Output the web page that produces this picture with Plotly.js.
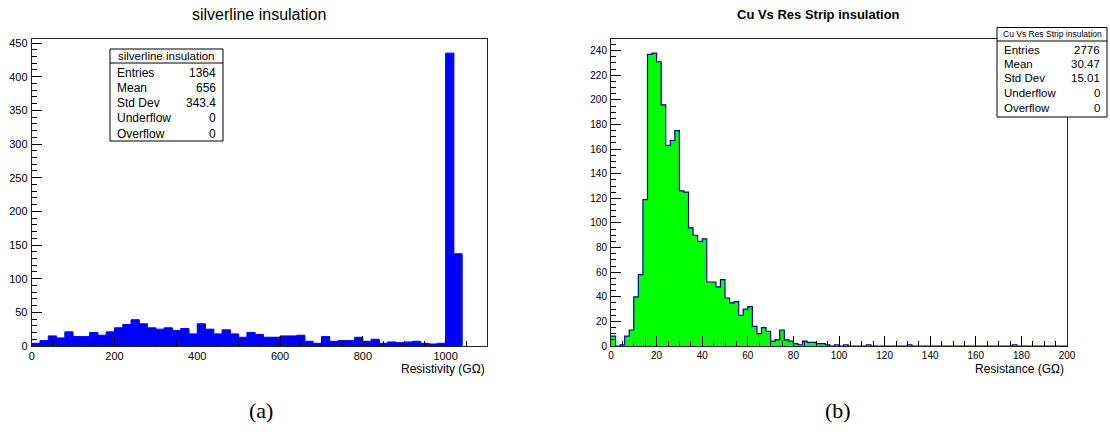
<!DOCTYPE html>
<html>
<head>
<meta charset="utf-8">
<script src="https://cdn.plot.ly/plotly-3.0.1.min.js"></script>
<style>html,body{margin:0;padding:0;background:#fff;}#chart{width:1110px;height:438px;}</style>
</head>
<body>
<div id="chart"></div>
<script>
// ---------------- data ----------------
const leftTitle = "silverline insulation";
const rightTitle = "Cu Vs Res Strip insulation";
const leftXTitle = "Resistivity (GΩ)";
const rightXTitle = "Resistance (GΩ)";
const leftBinWidth = 20;      // GΩ
const rightBinWidth = 2;      // GΩ
const leftCounts = [4,8,15,12,21,14,14,20,16,21,
                    27,32,39,33,27,25,27,23,26,18,
                    33,25,18,24,18,13,20,17,13,13,
                    15,15,16,7,4,14,7,8,8,13,
                    7,10,4,6,5,6,7,4,3,4,
                    435,137];
const rightCounts = [8,0,1,8,13,40,58,119,237,238,
                     231,196,163,167,175,126,125,96,90,85,
                     87,52,52,48,54,39,35,36,25,30,
                     32,16,10,15,12,4,5,13,5,4,
                     2,1,4,3,3,2,2,1,0,1,
                     0,1,0,0,0,0,1,0,0,0,
                     0,0,0,0,0,1,0,0,0,0,
                     0,0,0,0,0,0,0,0,0,0,
                     0,0,0,0,0,0,0,0,1,0,
                     0,0,0,0,0,0,0,0,0,0];
const statLabels = ["Entries","Mean","Std Dev","Underflow","Overflow"];
const leftStats = ["1364","656","343.4","0","0"];
const rightStats = ["2776","30.47","15.01","0","0"];
const panelLabels = ["(a)","(b)"];

// ---------------- helpers ----------------
const W = 1110, H = 438;
const px = x => x / W;
const py = y => 1 - y / H;
function stepXY(counts, w) {
  const x = [], y = [];
  for (let i = 0; i <= counts.length; i++) { x.push(i * w); y.push(i < counts.length ? counts[i] : 0); }
  return {x, y};
}
const FONT = "Liberation Sans, Arial, Helvetica, sans-serif";
const L = stepXY(leftCounts, leftBinWidth);
const R = stepXY(rightCounts, rightBinWidth);

const traces = [
  {x: L.x, y: L.y, type: "scatter", mode: "lines", line: {shape: "hv", color: "#0000ff", width: 1},
   fill: "tozeroy", fillcolor: "#0000ff", xaxis: "x", yaxis: "y", hoverinfo: "skip"},
  {x: R.x, y: R.y, type: "scatter", mode: "lines", line: {shape: "hv", color: "#00009a", width: 1.2},
   fill: "tozeroy", fillcolor: "#00ff00", xaxis: "x2", yaxis: "y2", hoverinfo: "skip"}
];

function axis(domain, range, dtick, minorDtick, anchor, fs, standoff) {
  return {
    domain, range, anchor, dtick, tick0: 0, autorange: false,
    ticks: "inside", ticklen: 10, tickwidth: 1, tickcolor: "#000",
    minor: {ticks: "inside", ticklen: 5, dtick: minorDtick, tick0: 0, tickcolor: "#000", showgrid: false},
    showline: true, linecolor: "#222", linewidth: 1, mirror: true,
    showgrid: false, zeroline: false, ticklabelstandoff: standoff,
    tickfont: {family: FONT, size: fs, color: "#000"}
  };
}

const xDomL = [px(31.7), px(487)], xDomR = [px(611), px(1067)];
const yDom = [py(346), py(38.5)];

const shapes = [], annotations = [];
function statsBox(x0, x1, y0, yh, y1, header, hfs, rows, rowY, fs, vals) {
  shapes.push({type: "rect", xref: "paper", yref: "paper", x0: px(x0), x1: px(x1), y0: py(y1), y1: py(y0),
    line: {color: "#000", width: 1}, fillcolor: "#fff", layer: "above"});
  shapes.push({type: "line", xref: "paper", yref: "paper", x0: px(x0), x1: px(x1), y0: py(yh), y1: py(yh),
    line: {color: "#000", width: 1}, layer: "above"});
  annotations.push({xref: "paper", yref: "paper", x: px((x0 + x1) / 2), y: py((y0 + yh) / 2), text: header,
    showarrow: false, xanchor: "center", yanchor: "middle", font: {family: FONT, size: hfs, color: "#000"}});
  rows.forEach((r, i) => {
    annotations.push({xref: "paper", yref: "paper", x: px(x0 + 5), y: py(rowY[i]), text: r, showarrow: false,
      xanchor: "left", yanchor: "middle", font: {family: FONT, size: fs, color: "#000"}});
    annotations.push({xref: "paper", yref: "paper", x: px(x1 - 5), y: py(rowY[i]), text: vals[i], showarrow: false,
      xanchor: "right", yanchor: "middle", font: {family: FONT, size: fs, color: "#000"}});
  });
}
statsBox(110, 223, 49, 63, 141, leftTitle, 11.5, statLabels, [72.7, 88, 103, 118.3, 133.5], 12, leftStats);
statsBox(997, 1107, 27.5, 41, 117, rightTitle, 8.5, statLabels, [50, 64, 78.5, 93, 108], 11.5, rightStats);

annotations.push({xref: "paper", yref: "paper", x: px(259), y: py(14), text: leftTitle, showarrow: false,
  xanchor: "center", yanchor: "middle", font: {family: FONT, size: 16, color: "#000"}});
annotations.push({xref: "paper", yref: "paper", x: px(818), y: py(14), text: "<b>" + rightTitle + "</b>", showarrow: false,
  xanchor: "center", yanchor: "middle", font: {family: FONT, size: 13, color: "#000"}});
annotations.push({xref: "paper", yref: "paper", x: px(487), y: py(368.5), text: leftXTitle, showarrow: false,
  xanchor: "right", yanchor: "middle", font: {family: FONT, size: 12, color: "#000"}});
annotations.push({xref: "paper", yref: "paper", x: px(1066), y: py(368.5), text: rightXTitle, showarrow: false,
  xanchor: "right", yanchor: "middle", font: {family: FONT, size: 12, color: "#000"}});
annotations.push({xref: "paper", yref: "paper", x: px(261), y: py(410), text: panelLabels[0], showarrow: false,
  xanchor: "center", yanchor: "middle", font: {family: "Liberation Serif, DejaVu Serif, serif", size: 22, color: "#000"}});
annotations.push({xref: "paper", yref: "paper", x: px(838), y: py(410), text: panelLabels[1], showarrow: false,
  xanchor: "center", yanchor: "middle", font: {family: "Liberation Serif, DejaVu Serif, serif", size: 22, color: "#000"}});

const layout = {
  width: W, height: H, margin: {l: 0, r: 0, t: 0, b: 0},
  paper_bgcolor: "#fff", plot_bgcolor: "#fff", showlegend: false,
  font: {family: FONT, color: "#000"},
  xaxis: axis(xDomL, [0, 1100], 200, 50, "y", 11, 0),
  yaxis: axis(yDom, [0, 456.75], 50, 10, "x", 11, 1),
  xaxis2: axis(xDomR, [0, 200], 20, 5, "y2", 10, 0),
  yaxis2: axis(yDom, [0, 249.9], 20, 5, "x2", 10, 1),
  shapes, annotations
};
Plotly.newPlot("chart", traces, layout, {staticPlot: true, displayModeBar: false});
</script>
</body>
</html>
